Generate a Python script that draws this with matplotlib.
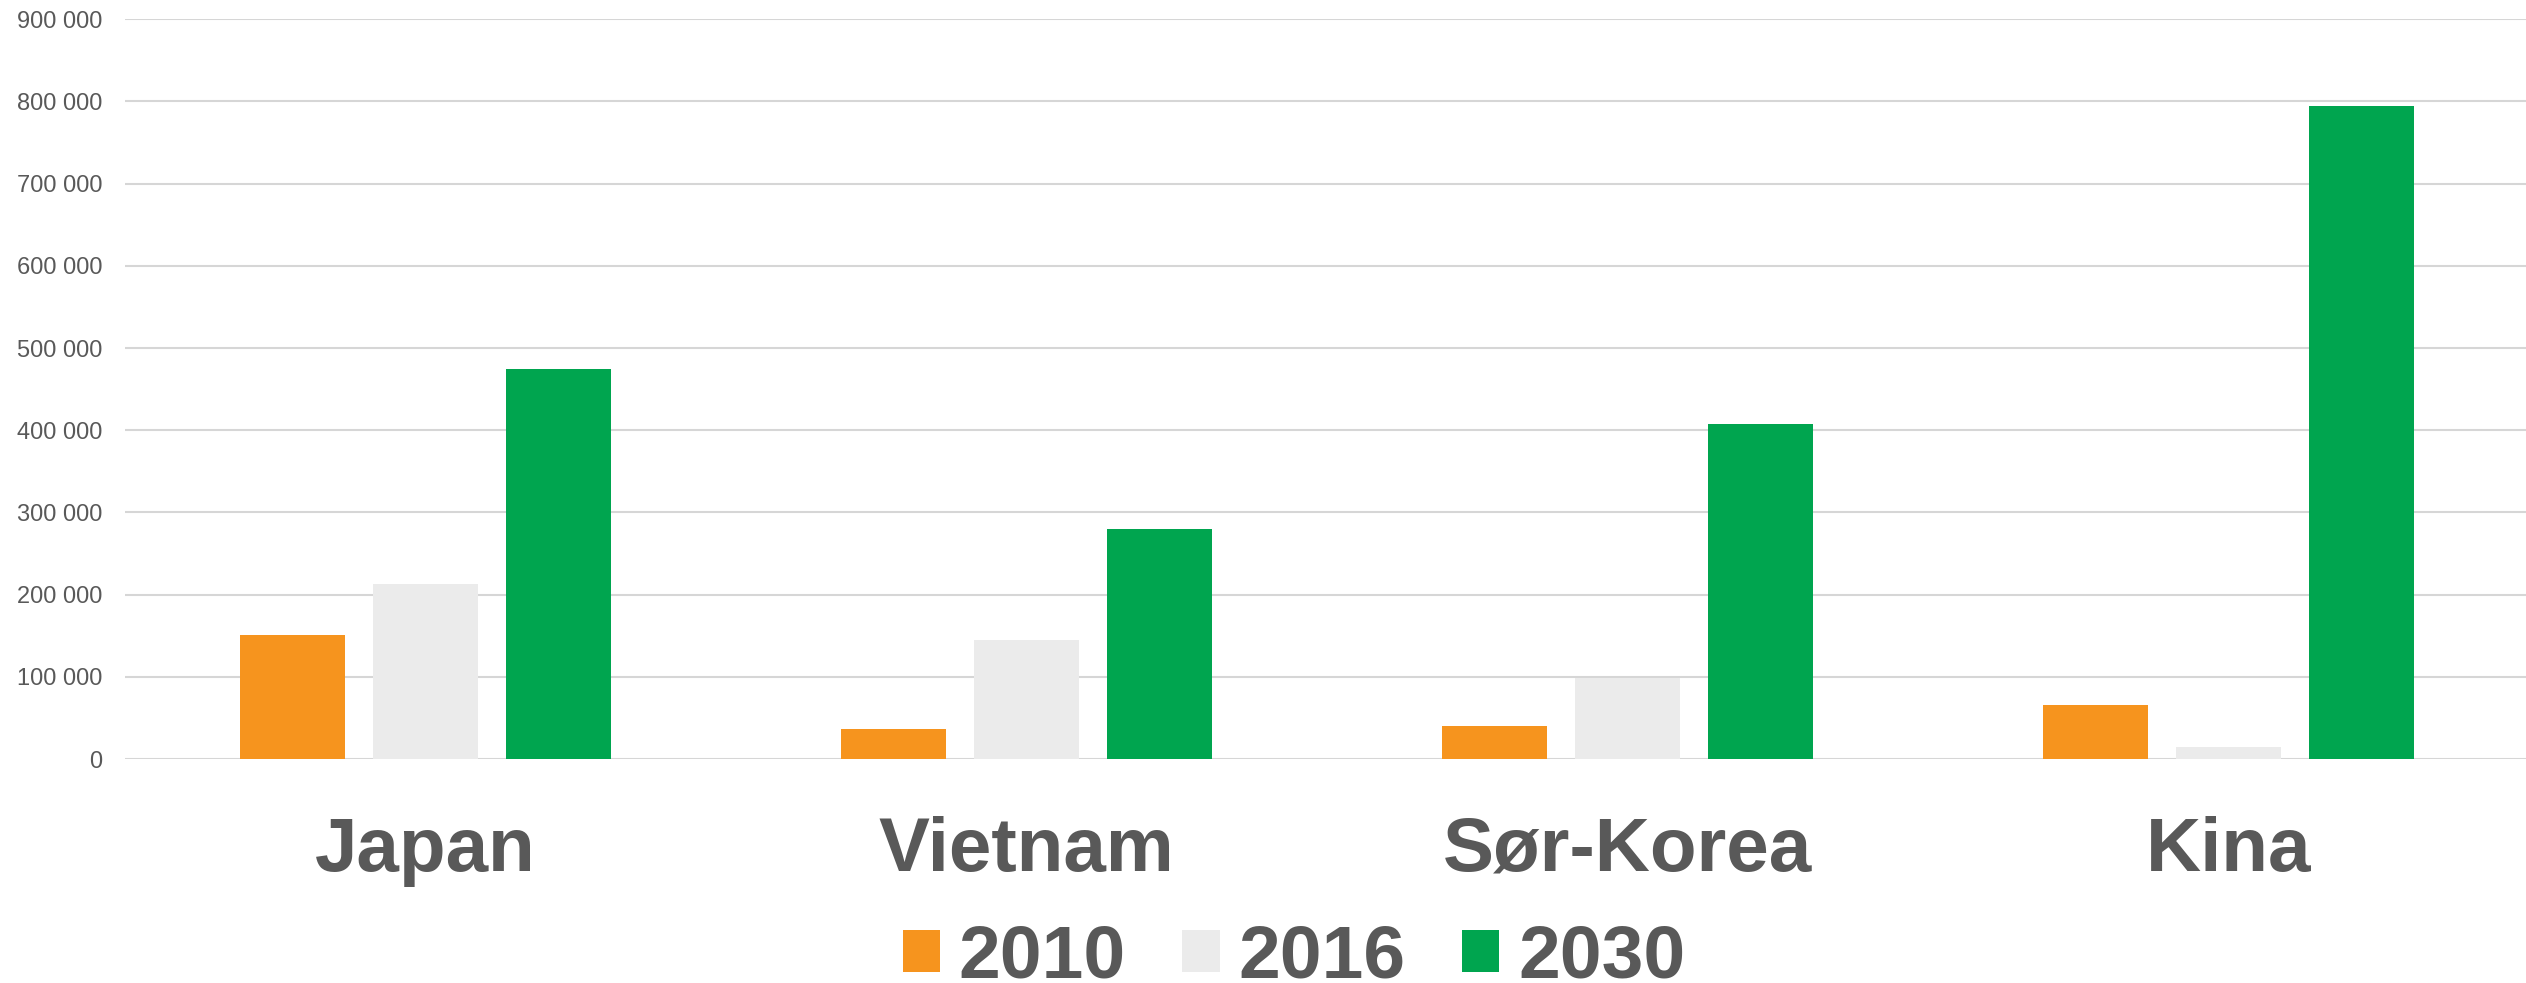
import numpy as np
import matplotlib.pyplot as plt
from matplotlib.ticker import FuncFormatter

# Dados
land = ['Japan', 'Vietnam', 'Sør-Korea', 'Kina']
aar = ['2010', '2016', '2030']
verdier_2010 = [151000, 36500, 40000, 65500]
verdier_2016 = [213500, 145000, 99000, 14500]
verdier_2030 = [474000, 279500, 407000, 794500]
y_ticks = [0, 100000, 200000, 300000, 400000, 500000, 600000, 700000, 800000, 900000]

farger = ['#F6941E', '#EBEBEB', '#00A54F']
tekstfarge = '#595959'

plt.rcParams['font.family'] = ['Liberation Sans', 'DejaVu Sans']

W, H = 2526, 983
fig = plt.figure(figsize=(W / 100, H / 100), dpi=100)
ax = fig.add_axes([125 / W, 1 - 759 / H, (W - 125) / W, (759 - 19.3) / H])

x = np.arange(len(land))
bredde = 0.1747
steg = 0.2218
serier = [verdier_2010, verdier_2016, verdier_2030]
for i, (navn, verdier) in enumerate(zip(aar, serier)):
    ax.bar(x + (i - 1) * steg, verdier, width=bredde, color=farger[i], label=navn, zorder=2)

ax.set_xlim(-0.5, 3.5 - 3 / 601)
ax.set_ylim(0, 900000)
ax.set_yticks(y_ticks)
ax.yaxis.set_major_formatter(FuncFormatter(lambda v, p: f'{int(v):,}'.replace(',', ' ')))
ax.set_xticks(x)
ax.set_xticklabels(land, fontsize=55, fontweight='bold', color=tekstfarge)

ax.tick_params(axis='y', length=0, pad=16.5, labelsize=17, labelcolor=tekstfarge)
ax.tick_params(axis='x', length=0, pad=41)

ax.grid(axis='y', color='#D6D6D6', linewidth=1.5, zorder=0)
ax.set_axisbelow(True)
for s in ax.spines.values():
    s.set_visible(False)

# Legenda nederst
fig.legend(loc='center', bbox_to_anchor=(1294 / W, 1 - 958 / H), ncol=3, frameon=False,
           prop={'size': 54, 'weight': 'bold'}, labelcolor=tekstfarge,
           handlelength=0.5, handleheight=0.5, handletextpad=0.25, columnspacing=0.75,
           borderpad=0, borderaxespad=0)

fig.savefig('out.png', dpi=100)
